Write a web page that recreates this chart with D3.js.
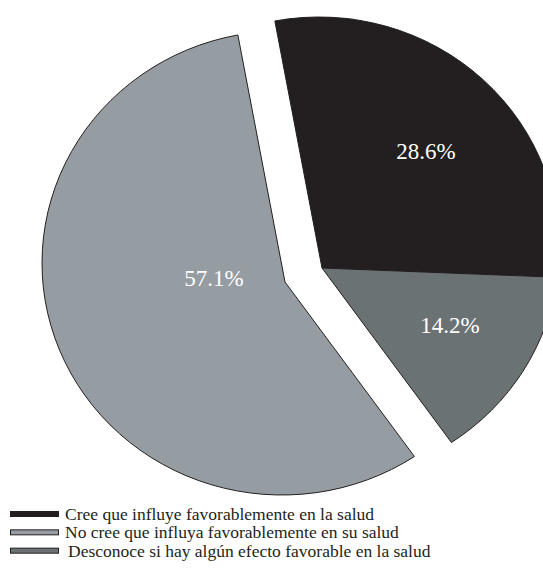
<!DOCTYPE html>
<html>
<head>
<meta charset="utf-8">
<script src="https://cdn.jsdelivr.net/npm/d3@7"></script>
<style>
  html, body { margin: 0; padding: 0; background: #ffffff; }
  svg { display: block; }
</style>
</head>
<body>
<svg id="chart" width="543" height="568"></svg>
<script>
// Survey answers, legend order
const categories = [
  "Cree que influye favorablemente en la salud",
  "No cree que influya favorablemente en su salud",
  "Desconoce si hay algún efecto favorable en la salud"
];
const values = [28.6, 57.1, 14.2];
const valueLabels = ["28.6%", "57.1%", "14.2%"];
const colors = ["#231f20", "#959ca2", "#6b7274"];
// order in which the slices run clockwise around the pie
const drawOrder = [0, 2, 1];
// slices pulled out of the pie
const exploded = [true, false, true];

// layout
const apex = { x: 285, y: 282 };          // centre point of the pie
const ellipseShift = { x: -3, y: -19 };   // outline centre relative to the centre point
const rx = 240, ry = 232;
const explodeOffset = { x: 37, y: -14 };
const startAngle = -10.8 * Math.PI / 180;
const labelOffsets = [[104, -117], [-71, -4], [128, 57]];

const svg = d3.select("#chart");

const pie = d3.pie()
  .value(i => values[i])
  .sort(null)
  .startAngle(startAngle)
  .endAngle(startAngle + 2 * Math.PI);

const arcs = pie(drawOrder);

// where a ray from the centre point meets the pie outline
function hit(p, c, theta) {
  const dx = Math.sin(theta), dy = -Math.cos(theta);
  const qx = p.x - c.x, qy = p.y - c.y;
  const A = (dx * dx) / (rx * rx) + (dy * dy) / (ry * ry);
  const B = 2 * ((qx * dx) / (rx * rx) + (qy * dy) / (ry * ry));
  const C = (qx * qx) / (rx * rx) + (qy * qy) / (ry * ry) - 1;
  const t = (-B + Math.sqrt(B * B - 4 * A * C)) / (2 * A);
  return { x: p.x + t * dx, y: p.y + t * dy };
}

function slicePath(d) {
  const i = d.data;
  const off = exploded[i] ? explodeOffset : { x: 0, y: 0 };
  const p = { x: apex.x + off.x, y: apex.y + off.y };
  const c = { x: p.x + ellipseShift.x, y: p.y + ellipseShift.y };
  const a = hit(p, c, d.startAngle);
  const b = hit(p, c, d.endAngle);
  const phiA = Math.atan2(a.y - c.y, a.x - c.x);
  const phiB = Math.atan2(b.y - c.y, b.x - c.x);
  const span = ((phiB - phiA) % (2 * Math.PI) + 2 * Math.PI) % (2 * Math.PI);
  const large = span > Math.PI ? 1 : 0;
  return `M${p.x},${p.y}L${a.x},${a.y}A${rx},${ry} 0 ${large} 1 ${b.x},${b.y}Z`;
}

svg.append("g")
  .selectAll("path")
  .data(arcs)
  .join("path")
  .attr("d", slicePath)
  .attr("fill", d => colors[d.data])
  .attr("stroke", "#231f20")
  .attr("stroke-width", 1)
  .attr("stroke-linejoin", "miter");

// value labels
svg.append("g")
  .selectAll("text")
  .data(arcs)
  .join("text")
  .attr("x", d => {
    const off = exploded[d.data] ? explodeOffset.x : 0;
    return apex.x + off + labelOffsets[d.data][0];
  })
  .attr("y", d => {
    const off = exploded[d.data] ? explodeOffset.y : 0;
    return apex.y + off + labelOffsets[d.data][1];
  })
  .attr("text-anchor", "middle")
  .attr("dominant-baseline", "central")
  .attr("font-family", "'Liberation Serif', 'DejaVu Serif', serif")
  .attr("font-size", 23)
  .attr("fill", "#ffffff")
  .text(d => valueLabels[d.data]);

// legend
const legendY = d3.scaleBand()
  .domain(d3.range(categories.length))
  .range([505, 560]);

const legend = svg.append("g")
  .selectAll("g")
  .data(d3.range(categories.length))
  .join("g")
  .attr("transform", i => `translate(0,${legendY(i)})`);

legend.append("rect")
  .attr("x", 10.5)
  .attr("y", 6.5)
  .attr("width", 48)
  .attr("height", 5)
  .attr("fill", i => colors[i])
  .attr("stroke", "#231f20")
  .attr("stroke-width", 1);

legend.append("text")
  .attr("x", i => i === 2 ? 68 : 65)
  .attr("y", 15)
  .attr("font-family", "'Liberation Serif', 'DejaVu Serif', serif")
  .attr("font-size", 17.5)
  .attr("fill", "#231f20")
  .text(i => categories[i]);
</script>
</body>
</html>
